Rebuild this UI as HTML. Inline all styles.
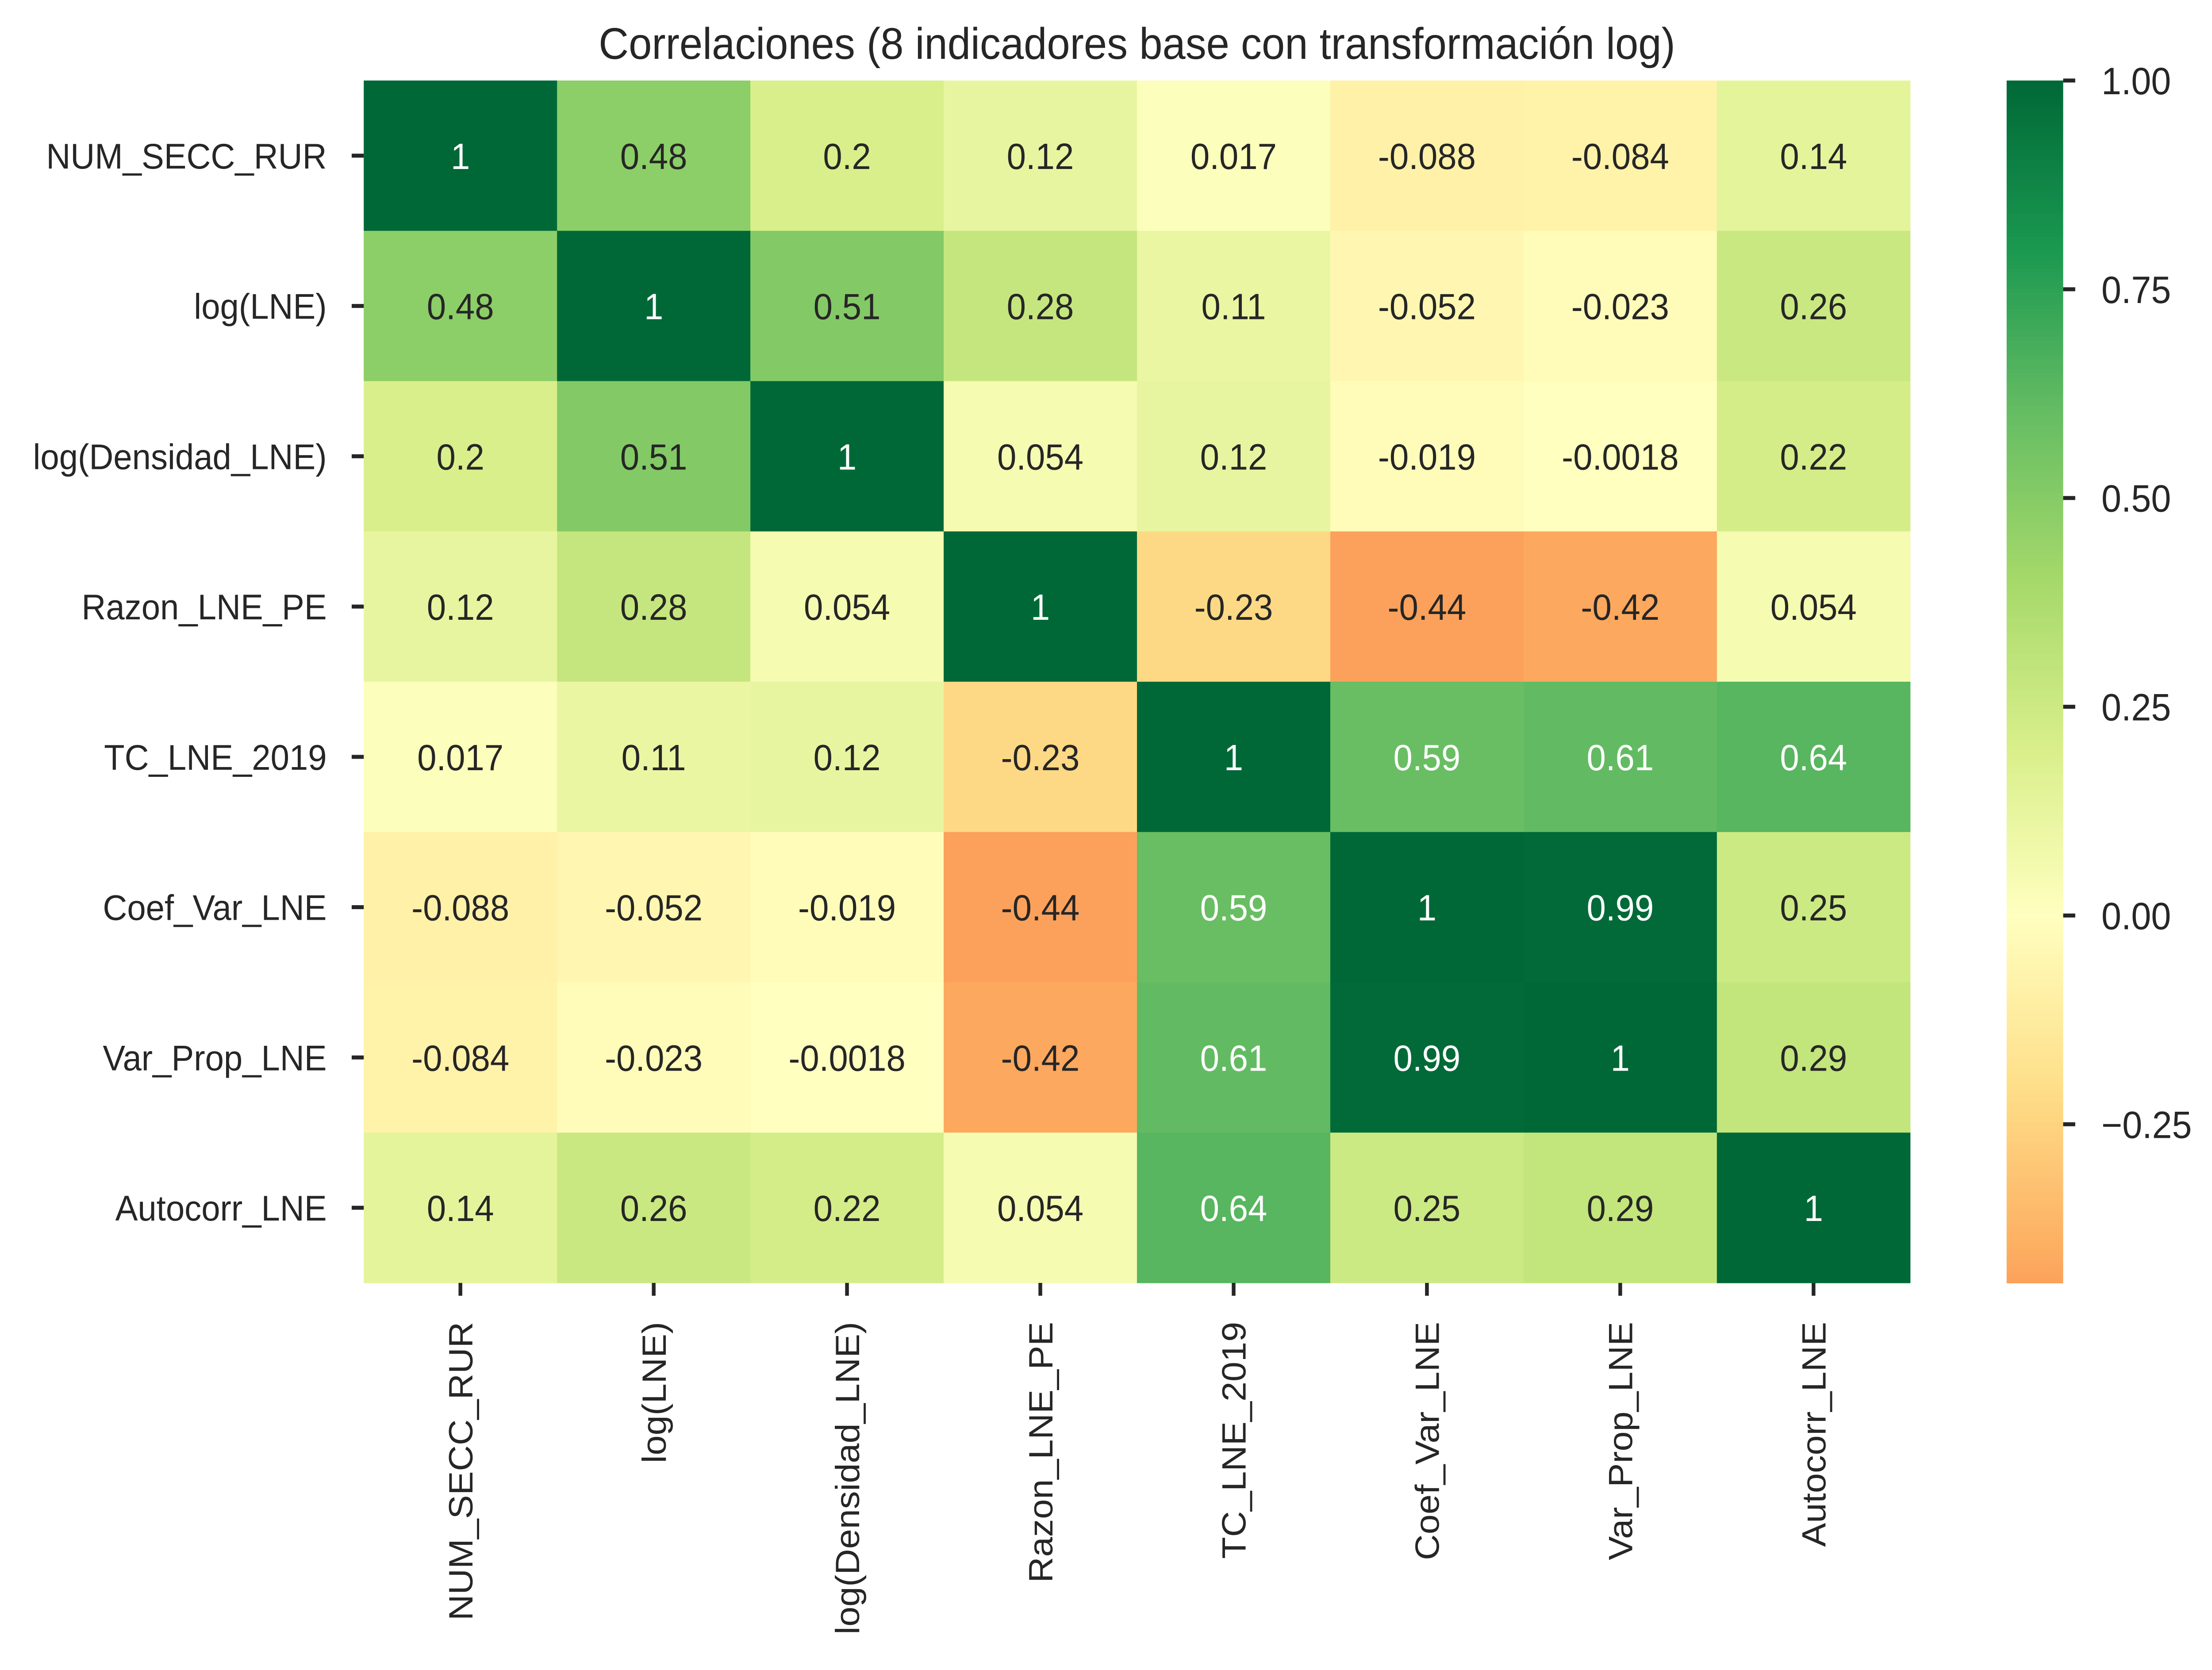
<!DOCTYPE html>
<html><head><meta charset="utf-8"><meta name="viewport" content="width=5321, initial-scale=1"><style>html,body{margin:0;padding:0;background:#fff;width:100%;height:100%;overflow:hidden}svg{display:block;width:100vw;height:100vh}</style></head>
<body>
<svg id="chart" viewBox="0 0 5321 3775" preserveAspectRatio="none" xmlns="http://www.w3.org/2000/svg" font-family="Liberation Sans, Arial, sans-serif">
<rect width="5321" height="3775" fill="#fff"/>
<text x="2735" y="133" font-size="100" text-anchor="middle" fill="#262626">Correlaciones (8 indicadores base con transformación log)</text>
<g id="cells"></g><g id="ylabels"></g><g id="xlabels"></g><g id="cbar"></g>
</svg>
<script>
const variables = ["NUM_SECC_RUR","log(LNE)","log(Densidad_LNE)","Razon_LNE_PE","TC_LNE_2019","Coef_Var_LNE","Var_Prop_LNE","Autocorr_LNE"];
const row0 = [1,0.48,0.2,0.12,0.017,-0.088,-0.084,0.14];
const row1 = [0.48,1,0.51,0.28,0.11,-0.052,-0.023,0.26];
const row2 = [0.2,0.51,1,0.054,0.12,-0.019,-0.0018,0.22];
const row3 = [0.12,0.28,0.054,1,-0.23,-0.44,-0.42,0.054];
const row4 = [0.017,0.11,0.12,-0.23,1,0.59,0.61,0.64];
const row5 = [-0.088,-0.052,-0.019,-0.44,0.59,1,0.99,0.25];
const row6 = [-0.084,-0.023,-0.0018,-0.42,0.61,0.99,1,0.29];
const row7 = [0.14,0.26,0.22,0.054,0.64,0.25,0.29,1];
const matrix = [row0,row1,row2,row3,row4,row5,row6,row7];
const cbarTicks = [1.00,0.75,0.50,0.25,0.00,-0.25];
const cbarMin = -0.44, cbarMax = 1.0;

const NS="http://www.w3.org/2000/svg";
const L=875,R=4595,T=182,B=2900;
const n=variables.length, cw=(R-L)/n, ch=(B-T)/n;
const xPos=i=>L+i*cw, yPos=i=>T+i*ch;
const CB={x0:4827,x1:4963};
const cbY=v=>T+(cbarMax-v)/(cbarMax-cbarMin)*(B-T);
const stops=["#a50026","#d73027","#f46d43","#fdae61","#fee08b","#ffffbf","#d9ef8b","#a6d96a","#66bd63","#1a9850","#006837"].map(h=>[parseInt(h.slice(1,3),16),parseInt(h.slice(3,5),16),parseInt(h.slice(5,7),16)]);
function cmap(v){let t=Math.max(0,Math.min(1,(v+1)/2))*10;let i=Math.min(9,Math.floor(t)),f=t-i;const a=stops[i],b=stops[i+1];return a.map((c,k)=>Math.round(c+(b[k]-c)*f));}
const rgb=c=>`rgb(${c[0]},${c[1]},${c[2]})`;
function lum(c){const l=c.map(x=>{x/=255;return x<=0.03928?x/12.92:Math.pow((x+0.055)/1.055,2.4)});return 0.2126*l[0]+0.7152*l[1]+0.0722*l[2];}
function mk(tag,attrs,parent,text){const e=document.createElementNS(NS,tag);for(const k in attrs)e.setAttribute(k,attrs[k]);if(text!==undefined)e.textContent=text;parent.appendChild(e);return e;}
const cells=document.getElementById('cells');
matrix.forEach((row,r)=>row.forEach((v,c)=>{
  const col=cmap(v);
  const rc=mk('rect',{x:xPos(c),y:yPos(r),width:cw+0.6,height:ch+0.6,fill:rgb(col)},cells);
  
  
  const t=mk('text',{x:xPos(c)+cw/2,y:yPos(r)+ch/2+30,'font-size':83,'text-anchor':'middle',fill:lum(col)<=0.408?'#fff':'#262626'},cells,String(Number(v.toPrecision(2))));
  
  
}));
const yl=document.getElementById('ylabels'), xl=document.getElementById('xlabels');
variables.forEach((name,i)=>{
  const cy=yPos(i)+ch/2;
  mk('line',{x1:846,x2:L,y1:cy,y2:cy,stroke:'#262626','stroke-width':9},yl);
  const t=mk('text',{x:786,y:cy+29,'font-size':81,'text-anchor':'end',fill:'#262626'},yl,name);
  
  
  const cx=xPos(i)+cw/2;
  mk('line',{x1:cx,x2:cx,y1:B,y2:B+29,stroke:'#262626','stroke-width':9},xl);
  const px=cx+29, py=2988;
  const u=mk('text',{x:px,y:py,'font-size':81,'text-anchor':'end',fill:'#262626',transform:`rotate(-90 ${px} ${py})`},xl,name);
  
  
});
const cb=document.getElementById('cbar');
const steps=300;
for(let k=0;k<steps;k++){
  const v0=cbarMax-(cbarMax-cbarMin)*k/steps, v1=cbarMax-(cbarMax-cbarMin)*(k+1)/steps;
  mk('rect',{x:CB.x0,y:cbY(v0),width:CB.x1-CB.x0,height:cbY(v1)-cbY(v0)+1,fill:rgb(cmap((v0+v1)/2))},cb);
}
cbarTicks.forEach(v=>{
  const y=cbY(v);
  mk('line',{x1:CB.x1,x2:CB.x1+29,y1:y,y2:y,stroke:'#262626','stroke-width':9},cb);
  const t=mk('text',{x:5055,y:y+31,'font-size':86,fill:'#262626'},cb,(v<0?'\u2212':'')+Math.abs(v).toFixed(2));
  
  
});
</script>
</body></html>
